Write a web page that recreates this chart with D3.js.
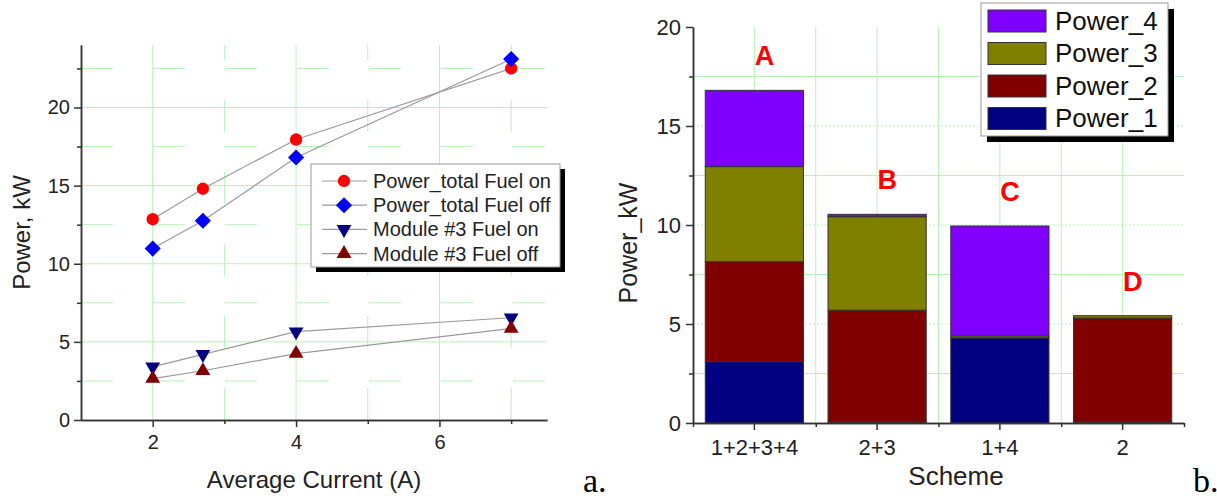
<!DOCTYPE html>
<html>
<head>
<meta charset="utf-8">
<script src="https://cdn.jsdelivr.net/npm/d3@7"></script>
<style>
  body { margin: 0; background: #fff; }
  svg { font-family: "Liberation Sans", Arial, sans-serif; }
</style>
</head>
<body>
<svg width="1217" height="500"></svg>
<script>
// left panel: power vs average current
const currents = [2, 2.7, 4, 7];
const totalFuelOn = [12.85, 14.8, 17.95, 22.5];
const totalFuelOff = [10.97, 12.75, 16.8, 23.1];
const moduleFuelOn = [3.4, 4.2, 5.65, 6.55];
const moduleFuelOff = [2.65, 3.15, 4.25, 5.85];
const lineNames = ["Power_total Fuel on", "Power_total Fuel off", "Module #3 Fuel on", "Module #3 Fuel off"];

// right panel: stacked power per scheme
const schemes = ["1+2+3+4", "2+3", "1+4", "2"];
const schemeLabels = ["A", "B", "C", "D"];
const power1 = [3.1, 0.05, 4.3, 0.05];
const power2 = [5.05, 5.65, 0, 5.25];
const power3 = [4.8, 4.72, 0.1, 0.12];
const power4 = [3.85, 0.12, 5.55, 0];
const powerKeys = ["Power_1", "Power_2", "Power_3", "Power_4"];

const svg = d3.select("svg");
const gridColor = "#b8f2b8";
const axisColor = "#333";

function styleAxis(g) {
  g.selectAll("path, line").attr("stroke", axisColor).attr("stroke-width", 1.5);
  g.selectAll("text").attr("fill", "#222");
}

// ---------- left chart ----------
const x1 = d3.scaleLinear().domain([1, 7.5]).range([81, 547]);
const y1 = d3.scaleLinear().domain([0, 24]).range([420, 45]);

let left = svg.append("g");

left.append("g")
  .selectAll("line")
  .data(d3.range(2.5, 24, 2.5))
  .join("line")
  .attr("x1", x1(1)).attr("x2", x1(7.5))
  .attr("y1", (d) => y1(d)).attr("y2", (d) => y1(d))
  .attr("stroke", gridColor)
  .attr("stroke-dasharray", (d) => (d % 5 === 0 ? null : "32,40"));

left.append("g")
  .selectAll("line")
  .data([2, 3, 4, 5, 6, 7])
  .join("line")
  .attr("x1", (d) => x1(d)).attr("x2", (d) => x1(d))
  .attr("y1", y1(0)).attr("y2", y1(24))
  .attr("stroke", gridColor)
  .attr("stroke-dasharray", (d) => (d % 2 === 0 ? null : "32,40"));

left.append("g")
  .attr("transform", `translate(0,${y1(0)})`)
  .call(d3.axisBottom(x1).tickValues([3, 5, 7]).tickFormat("").tickSize(4).tickSizeOuter(0))
  .call(styleAxis);
left.append("g")
  .attr("transform", `translate(0,${y1(0)})`)
  .call(d3.axisBottom(x1).tickValues([2, 4, 6]).tickFormat(d3.format("d")).tickSize(7).tickSizeOuter(0).tickPadding(8))
  .call(styleAxis)
  .selectAll("text").attr("font-size", 20);
left.append("g")
  .attr("transform", `translate(${x1(1)},0)`)
  .call(d3.axisLeft(y1).tickValues(d3.range(2.5, 24, 5)).tickFormat("").tickSize(4).tickSizeOuter(0))
  .call(styleAxis);
left.append("g")
  .attr("transform", `translate(${x1(1)},0)`)
  .call(d3.axisLeft(y1).tickValues([0, 5, 10, 15, 20]).tickFormat(d3.format("d")).tickSize(7).tickSizeOuter(0).tickPadding(4))
  .call(styleAxis)
  .selectAll("text").attr("font-size", 20);

const series = [
  { name: lineNames[0], values: totalFuelOn, color: "#ff0000", symbol: d3.symbolCircle, size: 120, rot: 0 },
  { name: lineNames[1], values: totalFuelOff, color: "#0000ff", symbol: d3.symbolSquare, size: 130, rot: 45 },
  { name: lineNames[2], values: moduleFuelOn, color: "#000080", symbol: d3.symbolTriangle, size: 95, rot: 180 },
  { name: lineNames[3], values: moduleFuelOff, color: "#800000", symbol: d3.symbolTriangle, size: 95, rot: 0 },
];

let line = d3.line().x((d) => x1(d[0])).y((d) => y1(d[1]));

series.forEach((s) => {
  let pts = currents.map((c, i) => [c, s.values[i]]);
  left.append("path")
    .attr("d", line(pts))
    .attr("fill", "none")
    .attr("stroke", "#9a9a9a")
    .attr("stroke-width", 1.2);
  left.append("g")
    .selectAll("path")
    .data(pts)
    .join("path")
    .attr("d", d3.symbol(s.symbol, s.size))
    .attr("transform", (d) => `translate(${x1(d[0])},${y1(d[1])}) rotate(${s.rot})`)
    .attr("fill", s.color);
});

left.append("text")
  .attr("x", (x1(1) + x1(7.5)) / 2).attr("y", 488)
  .attr("text-anchor", "middle").attr("font-size", 24).attr("fill", "#222")
  .text("Average Current (A)");
left.append("text")
  .attr("transform", `translate(30,${(y1(0) + y1(24)) / 2}) rotate(-90)`)
  .attr("text-anchor", "middle").attr("font-size", 24).attr("fill", "#222")
  .text("Power, kW");

// legend
let lg = left.append("g").attr("transform", "translate(311,164)");
lg.append("rect").attr("x", 5).attr("y", 5).attr("width", 249).attr("height", 103).attr("fill", "#000");
lg.append("rect").attr("width", 249).attr("height", 103).attr("fill", "#fff").attr("stroke", "#999");
series.forEach((s, i) => {
  let row = lg.append("g").attr("transform", `translate(0,${17 + i * 24.2})`);
  row.append("line").attr("x1", 11).attr("x2", 56).attr("stroke", "#9a9a9a").attr("stroke-width", 1.2);
  row.append("path")
    .attr("d", d3.symbol(s.symbol, s.size))
    .attr("transform", `translate(33,0) rotate(${s.rot})`)
    .attr("fill", s.color);
  row.append("text").attr("x", 62).attr("y", 7).attr("font-size", 20).attr("fill", "#222").text(s.name);
});

svg.append("text")
  .attr("x", 583).attr("y", 492)
  .attr("font-family", "'Liberation Serif', 'Times New Roman', serif")
  .attr("font-size", 34).text("a.");

// ---------- right chart ----------
const x2 = d3.scaleBand().domain(schemes).range([693, 1184]).paddingInner(0.2).paddingOuter(0.1);
const y2 = d3.scaleLinear().domain([0, 20]).range([423, 27]);

let right = svg.append("g");

right.append("g")
  .selectAll("line")
  .data(d3.range(2.5, 20, 2.5))
  .join("line")
  .attr("x1", 693).attr("x2", 1184)
  .attr("y1", (d) => y2(d)).attr("y2", (d) => y2(d))
  .attr("stroke", gridColor)
  .attr("stroke-dasharray", (d) => (d % 5 === 0 ? "2,2" : null));

let centers = schemes.map((s) => x2(s) + x2.bandwidth() / 2);
let bounds = schemes.slice(1).map((s) => x2(s) - (x2.step() * x2.paddingInner()) / 2);

right.append("g")
  .selectAll("line")
  .data(centers.concat(bounds))
  .join("line")
  .attr("x1", (d) => d).attr("x2", (d) => d)
  .attr("y1", y2(0)).attr("y2", y2(20))
  .attr("stroke", gridColor);

let table = schemes.map((s, i) => ({
  scheme: s,
  Power_1: power1[i], Power_2: power2[i], Power_3: power3[i], Power_4: power4[i],
}));
let stack = d3.stack().keys(powerKeys)(table);
let colors = d3.scaleOrdinal().domain(powerKeys).range(["#000080", "#800000", "#808000", "#8000ff"]);

right.append("g")
  .selectAll("g")
  .data(stack)
  .join("g")
  .attr("fill", (d) => colors(d.key))
  .selectAll("rect")
  .data((d) => d)
  .join("rect")
  .attr("x", (d) => x2(d.data.scheme))
  .attr("width", x2.bandwidth())
  .attr("y", (d) => y2(d[1]))
  .attr("height", (d) => y2(d[0]) - y2(d[1]))
  .attr("stroke", "#333")
  .attr("stroke-width", 1);

// scheme letters above each stack
right.append("g")
  .selectAll("text")
  .data(table)
  .join("text")
  .attr("x", (d) => x2(d.scheme) + x2.bandwidth() / 2 + 10)
  .attr("y", (d) => y2(d.Power_1 + d.Power_2 + d.Power_3 + d.Power_4) - 25)
  .attr("text-anchor", "middle")
  .attr("font-size", 27).attr("font-weight", "bold").attr("fill", "#ff0000")
  .text((d, i) => schemeLabels[i]);

right.append("g")
  .attr("transform", `translate(0,${y2(0)})`)
  .call(d3.axisBottom(d3.scaleLinear().domain([693, 1184]).range([693, 1184]))
    .tickValues(bounds.concat([693, 1184])).tickFormat("").tickSize(4).tickSizeOuter(0))
  .call(styleAxis);
right.append("g")
  .attr("transform", `translate(0,${y2(0)})`)
  .call(d3.axisBottom(x2).tickSize(7).tickSizeOuter(0).tickPadding(9))
  .call(styleAxis)
  .selectAll("text").attr("font-size", 22);
right.append("g")
  .attr("transform", "translate(693,0)")
  .call(d3.axisLeft(y2).tickValues(d3.range(2.5, 20, 5)).tickFormat("").tickSize(4).tickSizeOuter(0))
  .call(styleAxis);
right.append("g")
  .attr("transform", "translate(693,0)")
  .call(d3.axisLeft(y2).tickValues([0, 5, 10, 15, 20]).tickFormat(d3.format("d")).tickSize(7).tickSizeOuter(0).tickPadding(5))
  .call(styleAxis)
  .selectAll("text").attr("font-size", 22);

right.append("text")
  .attr("x", 956).attr("y", 485)
  .attr("text-anchor", "middle").attr("font-size", 26).attr("fill", "#222")
  .text("Scheme");
right.append("text")
  .attr("transform", "translate(637,243) rotate(-90)")
  .attr("text-anchor", "middle").attr("font-size", 25).attr("fill", "#222")
  .text("Power_kW");

// legend, Power_4 on top
let lg2 = right.append("g").attr("transform", "translate(981,3)");
lg2.append("rect").attr("x", 6).attr("y", 6).attr("width", 187).attr("height", 133).attr("fill", "#000");
lg2.append("rect").attr("width", 187).attr("height", 133).attr("fill", "#fff").attr("stroke", "#999");
powerKeys.slice().reverse().forEach((k, i) => {
  let row = lg2.append("g").attr("transform", `translate(0,${7 + i * 32.5})`);
  row.append("rect").attr("x", 7).attr("width", 58).attr("height", 22)
    .attr("fill", colors(k)).attr("stroke", "#333");
  row.append("text").attr("x", 74).attr("y", 19.5).attr("font-size", 26).attr("fill", "#111").text(k);
});

svg.append("text")
  .attr("x", 1193).attr("y", 492)
  .attr("font-family", "'Liberation Serif', 'Times New Roman', serif")
  .attr("font-size", 34).text("b.");
</script>
</body>
</html>
